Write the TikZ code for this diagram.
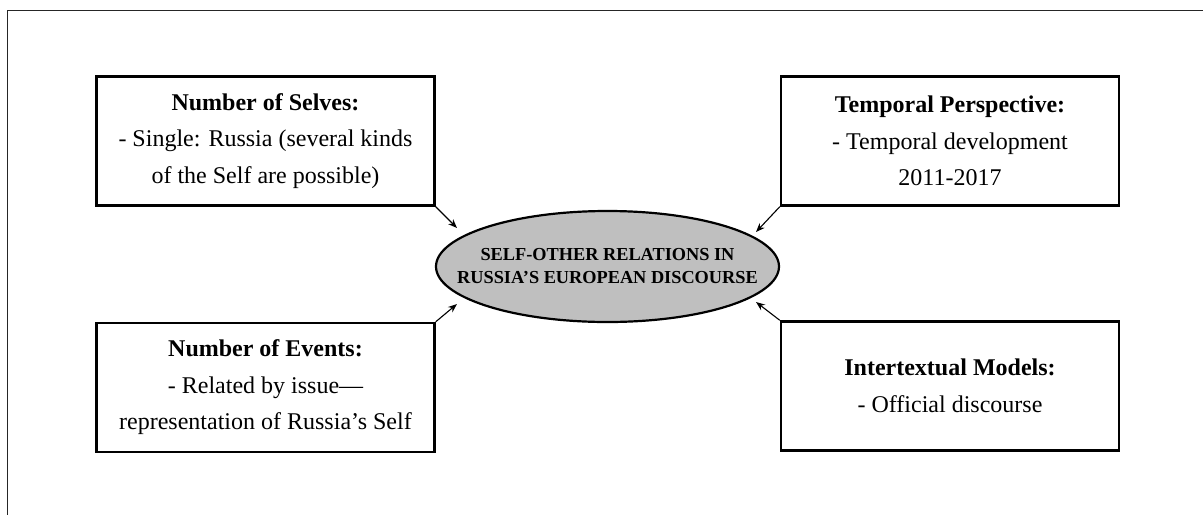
\documentclass[tikz,border=0pt]{standalone}
\usepackage{fontspec}
\setmainfont{Liberation Serif}
\usetikzlibrary{shapes,arrows.meta}

\begin{document}
\begin{tikzpicture}[x=1pt, y=-1pt,
  infobox/.style={draw, line width=2.4pt, minimum width=338pt, minimum height=129pt,
    align=center, font=\fontsize{24}{36.5}\selectfont},
  topic/.style={ellipse, draw, line width=2.2pt, fill=black!25,
    minimum width=343pt, minimum height=111pt},
  topictext/.style={align=center, inner sep=0pt, font=\fontsize{18.3}{23}\selectfont\bfseries},
  link/.style={line width=1.1pt, -{Stealth[length=9pt, width=7pt]}}]
\useasboundingbox (0,0) rectangle (1203,515);
\draw [line width=1.5pt, black!85] (1203,10.5) -- (7.5,10.5) -- (7.5,515);

\node[topic, label={[topictext]center:SELF-OTHER RELATIONS IN\\RUSSIA’S EUROPEAN DISCOURSE}] (core) at (607.5,266.5) {};

\node[infobox] (selves) at (265.5,141) {\textbf{Number of Selves:}\\- Single: Russia (several kinds\\of the Self are possible)};
\node[infobox] (time) at (950,141) {\textbf{Temporal Perspective:}\\- Temporal development\\2011-2017};
\node[infobox] (events) at (265.5,387.5) {\textbf{Number of Events:}\\- Related by issue—\\representation of Russia’s Self};
\node[infobox] (models) at (950,386) {\textbf{Intertextual Models:}\\- Official discourse};

\coordinate (selveshead) at (457,228);
\coordinate (timehead) at (756,232);
\coordinate (eventshead) at (457,304);
\coordinate (modelshead) at (756,302);

\draw [link] (selves.south east) -- (selveshead);
\draw [link] (time.south west) -- (timehead);
\draw [link] (events.north east) -- (eventshead);
\draw [link] (models.north west) -- (modelshead);

\end{tikzpicture}
\end{document}
